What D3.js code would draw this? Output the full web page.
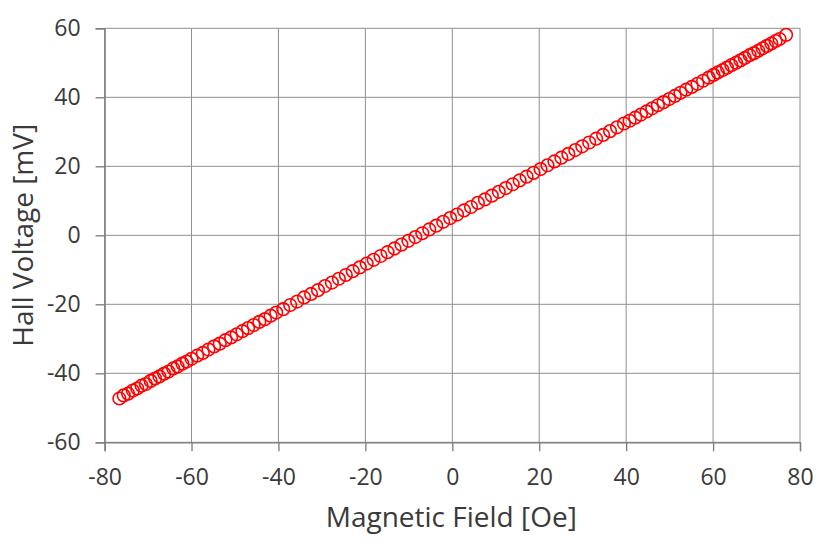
<!DOCTYPE html>
<html>
<head>
<meta charset="utf-8">
<script src="https://cdn.jsdelivr.net/npm/d3@7/dist/d3.min.js"></script>
<style>
  body { margin: 0; background: #fff; }
  svg { display: block; }
  text { font-family: "Open Sans", "Liberation Sans", sans-serif; fill: #3a3a3a; }
</style>
</head>
<body>
<svg id="chart" width="830" height="551"></svg>
<script>
const fieldOe = [-76.6,-75.6,-74.6,-73.5,-72.5,-71.5,-70.5,-69.4,-68.4,-67.4,-66.3,-65.3,-64.2,-63.2,-62.1,-61.1,-60.0,
  -58.7,-57.4,-56.1,-54.8,-53.5,-52.2,-50.9,-49.6,-48.3,-47.0,-45.7,-44.4,-43.1,-41.8,-40.5,
  -38.9,-37.3,-35.7,-34.1,-32.5,-30.9,-29.3,-27.7,-26.1,-24.5,-22.9,-21.3,-19.7,-18.1,-16.5,-14.9,-13.3,-11.7,-10.1,-8.5,-6.9,-5.3,-3.7,-2.1,-0.5,1.1,2.7,4.3,5.9,7.5,9.1,10.7,12.3,13.9,15.5,17.1,18.7,20.3,21.9,23.5,25.1,26.7,28.3,29.9,31.5,33.1,34.7,36.3,37.9,39.5,
  40.8,42.1,43.4,44.7,46.0,47.3,48.6,49.9,51.2,52.5,53.8,55.1,56.4,57.7,59.0,
  60.1,61.1,62.2,63.2,64.2,65.3,66.3,67.3,68.4,69.4,70.4,71.4,72.4,73.4,74.4,75.3,76.8];
const hallmV = [-47.3,-46.4,-45.9,-45.0,-44.4,-43.6,-43.1,-42.2,-41.5,-40.9,-40.1,-39.5,-38.6,-38.0,-37.2,-36.6,-35.8,
  -34.9,-34.1,-33.1,-32.2,-31.4,-30.4,-29.6,-28.7,-27.8,-26.9,-26.0,-25.1,-24.3,-23.3,-22.4,
  -21.4,-20.2,-19.2,-18.0,-17.0,-15.9,-14.7,-13.7,-12.6,-11.5,-10.4,-9.3,-8.2,-7.1,-6.0,-4.9,-3.8,-2.7,-1.6,-0.5,0.6,1.7,2.8,3.9,5.0,6.0,7.2,8.2,9.4,10.4,11.5,12.6,13.7,14.8,15.9,17.0,18.1,19.2,20.3,21.4,22.5,23.6,24.7,25.8,26.9,28.0,29.1,30.2,31.3,32.4,
  33.2,34.1,35.0,35.9,36.8,37.7,38.6,39.5,40.4,41.3,42.2,43.0,43.9,44.8,45.7,
  46.5,47.2,47.9,48.6,49.3,50.0,50.7,51.4,52.2,52.8,53.5,54.2,54.9,55.6,56.3,56.9,58.1];
const xTicks = [-80,-60,-40,-20,0,20,40,60,80];
const yTicks = [-60,-40,-20,0,20,40,60];
const xLabel = "Magnetic Field [Oe]";
const yLabel = "Hall Voltage [mV]";

const svg = d3.select("#chart");
const pLeft = 104.6, pRight = 800, pTop = 28.3, pBottom = 442.3;
const x = d3.scaleLinear().domain([-80, 80]).range([pLeft, pRight]);
const y = d3.scaleLinear().domain([-60, 60]).range([pBottom, pTop]);

const gridColor = "#8f8f8f";
// grid
svg.append("g").selectAll("line").data(xTicks).join("line")
  .attr("x1", d => x(d)).attr("x2", d => x(d))
  .attr("y1", pTop).attr("y2", pBottom)
  .attr("stroke", gridColor).attr("stroke-width", 1);
svg.append("g").selectAll("line").data(yTicks).join("line")
  .attr("x1", pLeft).attr("x2", pRight)
  .attr("y1", d => y(d)).attr("y2", d => y(d))
  .attr("stroke", gridColor).attr("stroke-width", 1);

// axes
const xAxis = svg.append("g").attr("transform", `translate(0,${pBottom})`)
  .call(d3.axisBottom(x).tickValues(xTicks).tickSize(9).tickPadding(17).tickFormat(d3.format("d")));
const yAxis = svg.append("g").attr("transform", `translate(${pLeft},0)`)
  .call(d3.axisLeft(y).tickValues(yTicks).tickSize(9).tickPadding(15).tickFormat(d3.format("d")));
[xAxis, yAxis].forEach(g => {
  g.select(".domain").attr("stroke", "#7a7a7a").attr("stroke-width", 1.3);
  g.selectAll(".tick line").attr("stroke", "#7a7a7a").attr("stroke-width", 1.3);
  g.selectAll(".tick text").attr("font-size", 23).attr("fill", "#3a3a3a")
    .attr("font-family", "'Open Sans', sans-serif");
});
xAxis.selectAll(".tick text").text(d => d < 0 ? "-" + Math.abs(d) : d);
yAxis.selectAll(".tick text").text(d => d < 0 ? "-" + Math.abs(d) : d);

// points
svg.append("g").selectAll("circle").data(fieldOe).join("circle")
  .attr("cx", d => x(d)).attr("cy", (d, i) => y(hallmV[i]))
  .attr("r", 6.3).attr("fill", "none").attr("stroke", "#ff0000").attr("stroke-width", 1.6);

// titles
svg.append("text").attr("x", (pLeft + pRight) / 2 - 1).attr("y", 527)
  .attr("text-anchor", "middle").attr("font-size", 28).text(xLabel);
svg.append("text").attr("transform", `translate(33,${(pTop + pBottom) / 2}) rotate(-90)`)
  .attr("text-anchor", "middle").attr("font-size", 28).text(yLabel);
</script>
</body>
</html>
